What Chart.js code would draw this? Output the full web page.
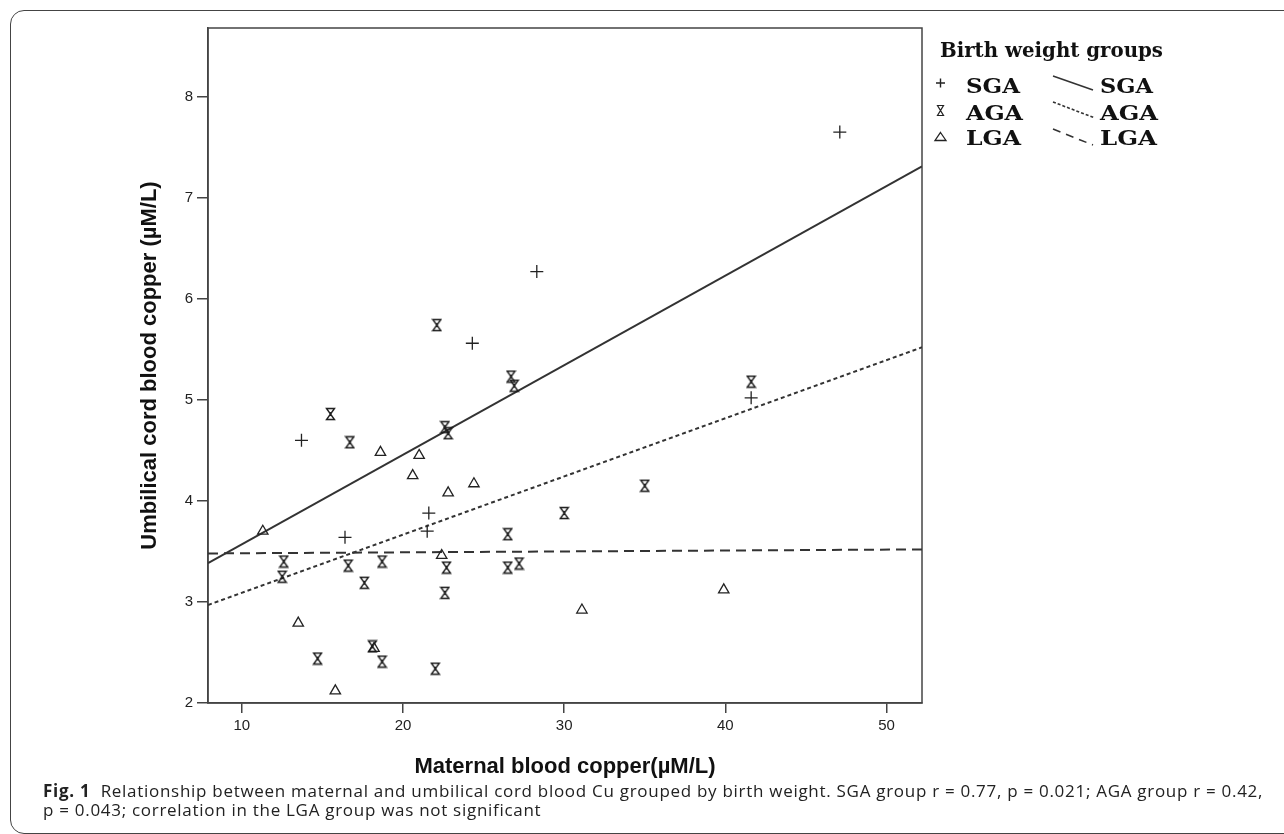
<!DOCTYPE html>
<html>
<head>
<meta charset="utf-8">
<script src="https://cdn.jsdelivr.net/npm/chart.js@4.4.1/dist/chart.umd.min.js"></script>
<style>
html, body { margin: 0; padding: 0; background: #fff; width: 1284px; height: 834px; overflow: hidden; position: relative; }
#frame { position: absolute; left: 10px; top: 10px; width: 1300px; height: 822px; border: 1.5px solid #444; border-radius: 14px; }
#c { position: absolute; left: 0; top: 0; }
#legend { position: absolute; left: 925px; top: 28px; }
#caption { position: absolute; left: 43px; top: 781px; font-family: "Open Sans", sans-serif; font-size: 17px; letter-spacing: 0.71px; line-height: 19px; color: #222; white-space: nowrap; }
</style>
</head>
<body>
<div id="frame"></div>
<canvas id="c" width="940" height="800"></canvas>
<svg id="legend" width="340" height="140" font-family="'DejaVu Serif', 'Liberation Serif', serif" font-weight="bold" fill="#111">
  <text x="15" y="29" font-size="20" textLength="223" lengthAdjust="spacingAndGlyphs">Birth weight groups</text>
  <!-- SGA -->
  <path d="M11 55 H20 M15.5 50.5 V59.5" stroke="#222" stroke-width="1.4" fill="none"/>
  <text x="41" y="65" font-size="21" textLength="54" lengthAdjust="spacingAndGlyphs">SGA</text>
  <line x1="128" y1="48" x2="168" y2="62" stroke="#333" stroke-width="1.6"/>
  <text x="175" y="65" font-size="21" textLength="53" lengthAdjust="spacingAndGlyphs">SGA</text>
  <!-- AGA -->
  <path d="M12.5 77.5 H18.5 L12.5 87.5 H18.5 Z" stroke="#222" stroke-width="1.2" fill="none"/>
  <text x="41" y="92" font-size="21" textLength="57" lengthAdjust="spacingAndGlyphs">AGA</text>
  <line x1="128" y1="74" x2="170" y2="90" stroke="#333" stroke-width="1.6" stroke-dasharray="3,2"/>
  <text x="175" y="92" font-size="21" textLength="58" lengthAdjust="spacingAndGlyphs">AGA</text>
  <!-- LGA -->
  <path d="M15.5 104.5 L21 112.5 H10 Z" stroke="#222" stroke-width="1.3" fill="none"/>
  <text x="41" y="117" font-size="21" textLength="55" lengthAdjust="spacingAndGlyphs">LGA</text>
  <line x1="128" y1="101" x2="168" y2="117" stroke="#333" stroke-width="1.6" stroke-dasharray="8,6"/>
  <text x="175" y="117" font-size="21" textLength="57" lengthAdjust="spacingAndGlyphs">LGA</text>
</svg>
<div id="caption"><b>Fig. 1</b>&nbsp; Relationship between maternal and umbilical cord blood Cu grouped by birth weight. SGA group r = 0.77, p = 0.021; AGA group r = 0.42,<br>p = 0.043; correlation in the LGA group was not significant</div>

<script>
// values
const sgaX = [28.3, 24.3, 13.7, 21.6, 21.5, 16.4, 47.1, 41.6];
const sgaY = [6.27, 5.56, 4.60, 3.88, 3.70, 3.64, 7.65, 5.02];

const agaX = [22.1, 26.7, 26.9, 15.5, 16.7, 22.6, 22.8, 30.0, 26.5, 12.6, 12.5, 16.6, 18.7, 22.7, 26.5, 27.2, 17.6, 22.6, 18.1, 14.7, 18.7, 22.0, 41.6, 35.0];
const agaY = [5.74, 5.23, 5.14, 4.86, 4.58, 4.73, 4.67, 3.88, 3.67, 3.40, 3.25, 3.36, 3.40, 3.34, 3.34, 3.38, 3.19, 3.09, 2.56, 2.44, 2.41, 2.34, 5.18, 4.15];

const lgaX = [18.6, 21.0, 20.6, 22.8, 24.4, 11.3, 22.4, 31.1, 13.5, 18.2, 39.9, 15.8];
const lgaY = [4.48, 4.45, 4.25, 4.08, 4.17, 3.70, 3.46, 2.92, 2.79, 2.54, 3.12, 2.12];

// fitted lines, evaluated at the two ends of the x axis
const fitX = [7.9, 52.2];
const sgaFit = [3.385, 7.31];
const agaFit = [2.97, 5.52];
const lgaFit = [3.48, 3.52];

const xTicks = [10, 20, 30, 40, 50];
const yTicks = [2, 3, 4, 5, 6, 7, 8];

const pts = (xs, ys) => xs.map((x, i) => ({ x: x, y: ys[i] }));

// hourglass marker for AGA
const hourglass = document.createElement('canvas');
hourglass.width = 11; hourglass.height = 14;
const g = hourglass.getContext('2d');
g.strokeStyle = '#1a1a1a'; g.lineWidth = 1.4;
g.beginPath();
g.moveTo(1.5, 1.5); g.lineTo(9.5, 1.5); g.lineTo(1.5, 12.5); g.lineTo(9.5, 12.5); g.closePath();
g.stroke();
g.beginPath(); g.moveTo(5.5, 5); g.lineTo(5.5, 9); g.stroke();

const frame = {
  id: 'frame',
  beforeDatasetsDraw(chart) {
    const a = chart.chartArea, ctx = chart.ctx;
    ctx.save();
    ctx.strokeStyle = '#444'; ctx.lineWidth = 1.5;
    ctx.strokeRect(a.left, a.top, a.right - a.left, a.bottom - a.top);
    ctx.restore();
  }
};

const tickFont = { family: "'Liberation Sans', Arial, sans-serif", size: 15 };
const titleFont = { family: "'Liberation Sans', Arial, sans-serif", size: 22, weight: 'bold' };
const lineDs = (data, dash) => ({ type: 'scatter', data: data, showLine: true, pointRadius: 0, borderColor: '#333', borderWidth: 2, borderDash: dash, fill: false });

new Chart(document.getElementById('c'), {
  type: 'scatter',
  data: {
    datasets: [
      { label: 'SGA', data: pts(sgaX, sgaY), pointStyle: 'cross', pointRadius: 6.5, borderColor: '#222', borderWidth: 1.3 },
      { label: 'AGA', data: pts(agaX, agaY), pointStyle: hourglass, pointRadius: 6 },
      { label: 'LGA', data: pts(lgaX, lgaY), pointStyle: 'triangle', pointRadius: 6, borderColor: '#222', backgroundColor: 'rgba(0,0,0,0)', borderWidth: 1.3 },
      lineDs(pts(fitX, sgaFit), []),
      lineDs(pts(fitX, agaFit), [4, 3]),
      lineDs(pts(fitX, lgaFit), [10, 6])
    ]
  },
  options: {
    responsive: false, animation: false, devicePixelRatio: 1,
    layout: { padding: { top: 28, right: 18, left: 0, bottom: 0 } },
    plugins: { legend: { display: false }, tooltip: { enabled: false } },
    scales: {
      x: {
        type: 'linear', min: 7.9, max: 52.2,
        afterBuildTicks: s => { s.ticks = xTicks.map(v => ({ value: v })); },
        afterFit: s => { s.height = 97; },
        ticks: { color: '#222', font: tickFont, padding: 4 },
        grid: { drawOnChartArea: false, tickLength: 10, color: '#444', lineWidth: 1.5 },
        border: { color: '#444', width: 1.5 },
        title: { display: true, text: 'Maternal blood copper(µM/L)', color: '#111', font: titleFont, padding: { top: 0, bottom: 20 } }
      },
      y: {
        type: 'linear', min: 2, max: 8.68,
        afterBuildTicks: s => { s.ticks = yTicks.map(v => ({ value: v })); },
        afterFit: s => { s.width = 208; },
        ticks: { color: '#222', font: tickFont, padding: 4 },
        grid: { drawOnChartArea: false, tickLength: 11, color: '#444', lineWidth: 1.5 },
        border: { color: '#444', width: 1.5 },
        title: { display: true, text: 'Umbilical cord blood copper (µM/L)', color: '#111', font: titleFont, padding: { top: 137, bottom: 0 } }
      }
    }
  },
  plugins: [frame]
});
</script>
</body>
</html>
